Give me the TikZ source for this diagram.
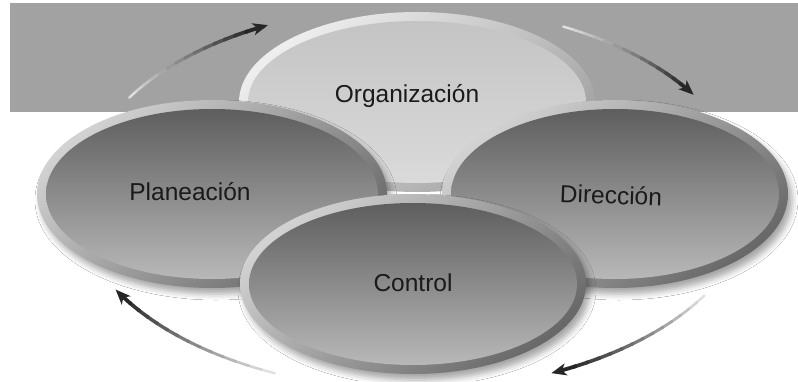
\documentclass[tikz,border=0pt]{standalone}
\usepackage{fontspec}
\setmainfont{Liberation Sans}
\usetikzlibrary{arrows.meta,shadows.blur}
\definecolor{band}{HTML}{A2A2A2}
\definecolor{ringL}{HTML}{D2D2D2}
\definecolor{ringD}{HTML}{686868}
\definecolor{inT}{HTML}{5E5E5E}
\definecolor{inB}{HTML}{B8B8B8}
\definecolor{oringL}{HTML}{EEEEEE}
\definecolor{oringD}{HTML}{A0A0A0}
\definecolor{oinT}{HTML}{C4C4C4}
\definecolor{oinB}{HTML}{DADADA}
\definecolor{txt}{HTML}{1A1A1A}
\tikzset{
  ringdark/.style={top color=ringL, bottom color=ringD, shading angle=40},
  innerdark/.style={top color=inT, bottom color=inB},
  ringlight/.style={top color=oringL, bottom color=oringD, shading angle=40},
  innerlight/.style={top color=oinT, bottom color=oinB},
  shadowed/.style={blur shadow={shadow xshift=4pt, shadow yshift=-6pt, shadow blur radius=6pt, shadow opacity=35}},
  lbl/.style={text=txt, font=\fontsize{24.5}{24.5}\selectfont, inner sep=0pt}
}
\begin{document}
\begin{tikzpicture}[x=1pt,y=-1pt]
\useasboundingbox (0,0) rectangle (798,381);
\fill[white] (0,0) rectangle (798,381);
\fill[band] (10,3) rectangle (798,112);
% cycle arrows
\foreach \cx/\cy/\rx/\ry/\a/\b in {413/195/331/189/211/244, 413/195/331/189/297/328, 413/195/340/195/31/66, 413/195/340/195/114/151}{
  \foreach \i in {0,...,13}{
    \pgfmathsetmacro\s{\a+(\b-\a)*\i/15}
    \pgfmathsetmacro\e{\a+(\b-\a)*(\i+1)/15+0.4}
    \pgfmathsetmacro\p{12+73*\i/13}
    \pgfmathsetmacro\w{2.4+1.4*\i/13}
    \draw[black!\p, line width=\w pt, line cap=round] (\cx,\cy) ++(\s:\rx\space and \ry) arc[start angle=\s, end angle=\e, x radius=\rx, y radius=\ry];
  }
  \pgfmathsetmacro\s{\a+(\b-\a)*14/15}
  \draw[black!85, line width=3.8pt, -{Stealth[length=15pt,width=12pt,inset=4pt]}] (\cx,\cy) ++(\s:\rx\space and \ry) arc[start angle=\s, end angle=\b, x radius=\rx, y radius=\ry];
}
% Organizacion
\path[ringlight] (417,102) ellipse [x radius=178, y radius=90];
\path[innerlight] (417,102) ellipse [x radius=169, y radius=81];
\node[lbl] (org) at (407,96) {Organización};
% Planeacion
\path[ringdark, shadowed] (212,194) ellipse [x radius=175, y radius=94];
\path[innerdark] (212,194) ellipse [x radius=166, y radius=85];
\node[lbl] (pla) at (190,192) {Planeación};
% Direccion
\path[ringdark, shadowed] (615,194) ellipse [x radius=173, y radius=94];
\path[innerdark] (615,194) ellipse [x radius=164, y radius=85];
\node[lbl, rotate=-2] (dir) at (611,195) {Dirección};
% Control
\path[ringdark, shadowed] (413,284) ellipse [x radius=173, y radius=90];
\path[innerdark] (413,284) ellipse [x radius=164, y radius=81];
\node[lbl] (con) at (413,283) {Control};
\end{tikzpicture}
\end{document}
